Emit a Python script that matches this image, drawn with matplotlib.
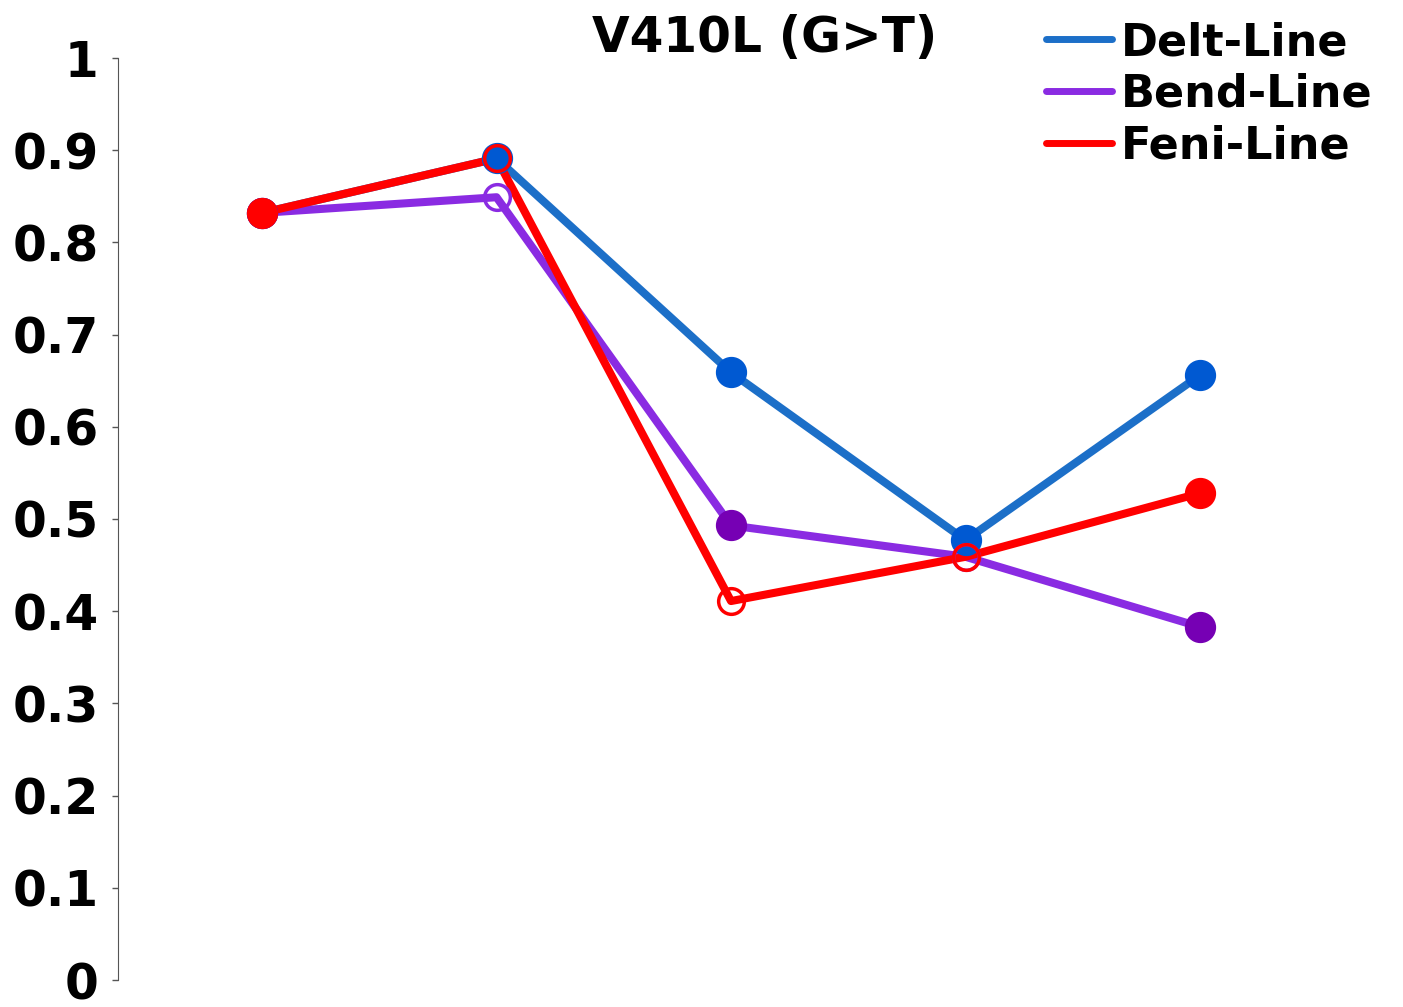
import matplotlib
matplotlib.use("Agg")
import matplotlib.pyplot as plt

x_pos = [1, 2, 3, 4, 5]
delt = [0.832, 0.891, 0.659, 0.477, 0.656]
bend = [0.832, 0.849, 0.493, 0.459, 0.383]
feni = [0.832, 0.891, 0.411, 0.459, 0.528]
delt_filled = [True, True, True, True, True]
bend_filled = [True, False, True, False, True]
feni_filled = [True, False, False, False, True]
labels = ["Delt-Line", "Bend-Line", "Feni-Line"]
yticks = [0, 0.1, 0.2, 0.3, 0.4, 0.5, 0.6, 0.7, 0.8, 0.9, 1]
yticklabels = ["0", "0.1", "0.2", "0.3", "0.4", "0.5", "0.6", "0.7", "0.8", "0.9", "1"]
title = "V410L (G>T)"

W, H = 1403, 1007
fig = plt.figure(figsize=(W / 100, H / 100), dpi=100)
ax = fig.add_axes([118 / W, 27 / H, (W - 118) / W, (980 - 58) / H])

series = [
    (delt, delt_filled, "#1c6fc8", "#0059d2"),
    (bend, bend_filled, "#8a2be2", "#7600b4"),
    (feni, feni_filled, "#ff0000", "#ff0000"),
]
for (vals, filled, lc, mc), lab in zip(series, labels):
    ax.plot(x_pos, vals, color=lc, lw=5.8, label=lab, zorder=2, solid_capstyle="round")
    for xi, yi, f in zip(x_pos, vals, filled):
        if f:
            ax.plot([xi], [yi], "o", ms=21.5, color=mc, mec=mc, zorder=3)
        else:
            ax.plot([xi], [yi], "o", ms=18.5, mfc="none", mec=lc, mew=2.5, zorder=3)

ax.set_xlim(1 - 144 / 234.5, 1 + (W - 262) / 234.5)
ax.set_ylim(0, 1)
ax.set_yticks(yticks)
ax.set_yticklabels(yticklabels, fontsize=35, fontweight="bold")
ax.tick_params(axis="y", direction="out", length=4, width=1, pad=10, color="#555555")
ax.set_xticks([])
for s in ["top", "right", "bottom"]:
    ax.spines[s].set_visible(False)
ax.spines["left"].set_color("#555555")
fig.text(765 / W, 1 - 38 / H, title, fontsize=35, fontweight="bold", ha="center", va="center")

leg = fig.legend(loc="upper left", bbox_to_anchor=(1046 / W, 1 - 21 / H), frameon=False,
                 prop={"size": 32, "weight": "bold"}, handlelength=1.48, handletextpad=0.2,
                 labelspacing=0.2, borderaxespad=0, borderpad=0)
for line in leg.get_lines():
    line.set_linewidth(5)

fig.savefig("out.png", dpi=100)
